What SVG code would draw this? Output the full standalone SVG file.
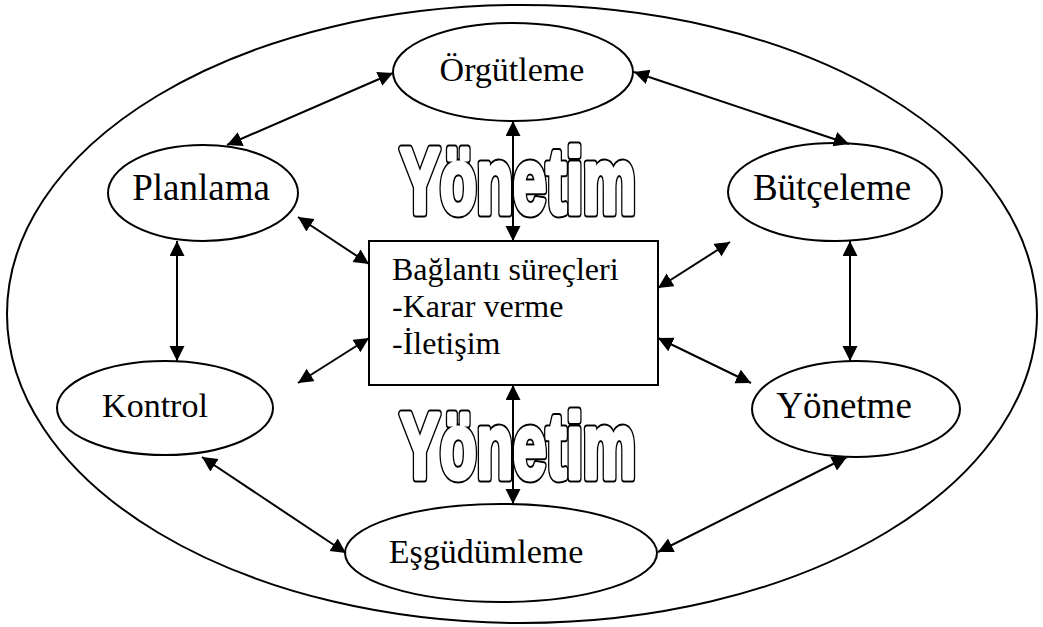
<svg xmlns="http://www.w3.org/2000/svg" width="1043" height="627" viewBox="0 0 1043 627">
  <style>
    .shape { fill: #fff; stroke: #000; stroke-width: 2; }
    .frame { fill: none; stroke: #000; stroke-width: 2; }
    .label { font-family: "Liberation Serif", "Times New Roman", serif; font-size: 34px; fill: #000; }
    .label-lg { font-size: 37px; }
    .body { font-family: "Liberation Serif", "Times New Roman", serif; font-size: 32px; fill: #000; }
    .big { font-family: "Liberation Sans", Arial, sans-serif; font-weight: bold; font-size: 92px; stroke-linejoin: round; }
    .big-edge { fill: #000; stroke: #000; stroke-width: 9; }
    .big-face { fill: #fff; stroke: #fff; stroke-width: 5; }
    .link { fill: none; stroke: #000; stroke-width: 2; marker-start: url(#head); marker-end: url(#head); }
  </style>
  <defs>
    <marker id="head" markerUnits="userSpaceOnUse" markerWidth="16" markerHeight="16" refX="15" refY="7.5" orient="auto-start-reverse">
      <path d="M0,0 L15,7.5 L0,15 Z" fill="#000"/>
    </marker>
  </defs>

  <rect width="1043" height="627" fill="#fff"/>

  <!-- outer boundary -->
  <ellipse class="frame" cx="522" cy="314" rx="515" ry="309"/>

  <!-- outlined heavy words: a dark dilated pass, then a white face on top -->
  <g id="title-top">
    <text class="big big-edge" x="400" y="213" textLength="236" lengthAdjust="spacingAndGlyphs">Yönetim</text>
    <text class="big big-face" x="400" y="213" textLength="236" lengthAdjust="spacingAndGlyphs">Yönetim</text>
  </g>
  <g id="title-bottom">
    <text class="big big-edge" x="400" y="478" textLength="236" lengthAdjust="spacingAndGlyphs">Yönetim</text>
    <text class="big big-face" x="400" y="478" textLength="236" lengthAdjust="spacingAndGlyphs">Yönetim</text>
  </g>

  <g id="orgutleme">
    <ellipse class="shape" cx="513" cy="72" rx="120" ry="49"/>
    <text class="label" x="512" y="81" text-anchor="middle">Örgütleme</text>
  </g>
  <g id="planlama">
    <ellipse class="shape" cx="203" cy="193" rx="95" ry="48"/>
    <text class="label label-lg" x="201" y="200" text-anchor="middle">Planlama</text>
  </g>
  <g id="butceleme">
    <ellipse class="shape" cx="835" cy="192" rx="107" ry="49"/>
    <text class="label label-lg" x="832" y="200" text-anchor="middle">Bütçeleme</text>
  </g>
  <g id="kontrol">
    <ellipse class="shape" cx="165" cy="408" rx="108" ry="47"/>
    <text class="label" x="155" y="417" text-anchor="middle">Kontrol</text>
  </g>
  <g id="yonetme">
    <ellipse class="shape" cx="856" cy="409" rx="104" ry="48"/>
    <text class="label label-lg" x="844" y="418" text-anchor="middle">Yönetme</text>
  </g>
  <g id="esgudumleme">
    <ellipse class="shape" cx="501" cy="553" rx="156" ry="49"/>
    <text class="label" x="486" y="563" text-anchor="middle">Eşgüdümleme</text>
  </g>

  <g id="baglanti">
    <rect class="shape" x="369" y="241" width="289" height="144"/>
    <text class="body" x="392" y="280">Bağlantı süreçleri</text>
    <text class="body" x="392" y="317">-Karar verme</text>
    <text class="body" x="392" y="354">-İletişim</text>
  </g>

  <g id="connectors">
    <line class="link" x1="227" y1="145" x2="393" y2="73"/>
    <line class="link" x1="634" y1="72" x2="849" y2="144"/>
    <line class="link" x1="513" y1="121" x2="513" y2="241"/>
    <line class="link" x1="298" y1="217" x2="369" y2="264"/>
    <line class="link" x1="658" y1="288" x2="730" y2="242"/>
    <line class="link" x1="177" y1="241" x2="177" y2="361"/>
    <line class="link" x1="850" y1="241" x2="850" y2="361"/>
    <line class="link" x1="369" y1="338" x2="298" y2="383"/>
    <line class="link" x1="658" y1="338" x2="751" y2="383"/>
    <line class="link" x1="513" y1="385" x2="513" y2="504"/>
    <line class="link" x1="202" y1="457" x2="346" y2="553"/>
    <line class="link" x1="658" y1="552" x2="847" y2="457"/>
  </g>
</svg>
